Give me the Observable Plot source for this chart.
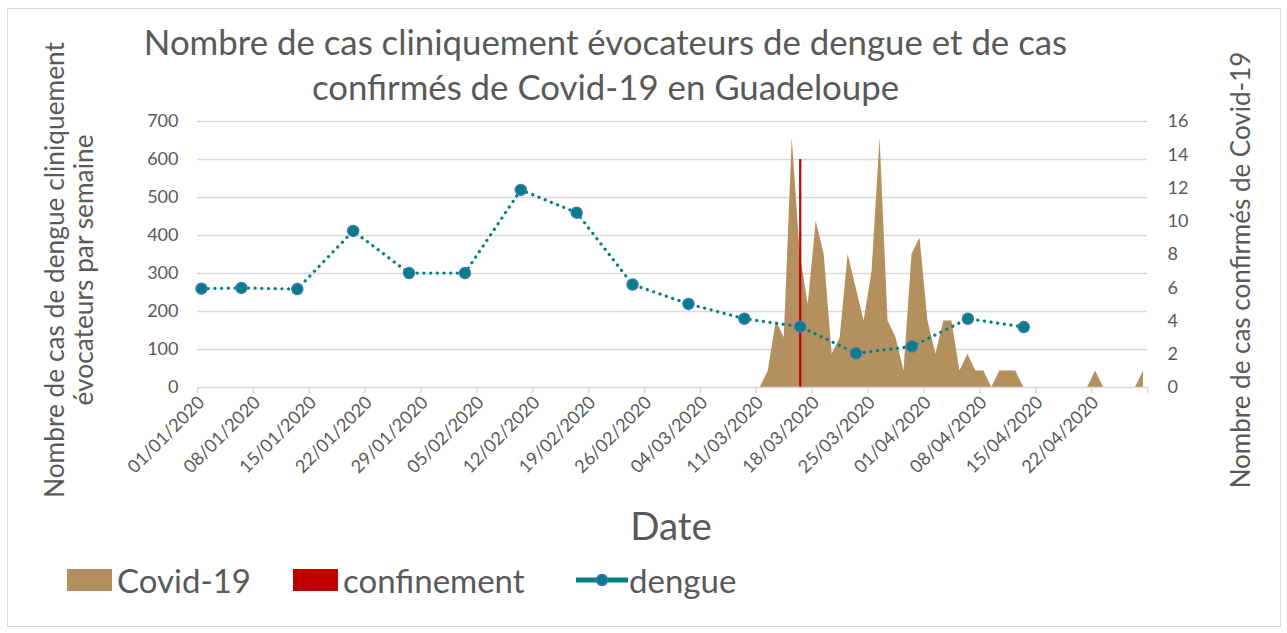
<!DOCTYPE html>
<html><head><meta charset="utf-8">
<script src="https://cdn.jsdelivr.net/npm/d3@7"></script>
<script src="https://cdn.jsdelivr.net/npm/@observablehq/plot@0.6"></script>
<style>
body{margin:0;background:#fff;font-family:Lato,"Open Sans",sans-serif;color:#595959}
#wrap{position:relative;width:1287px;height:633px;overflow:hidden;background:#fff}
#frame{position:absolute;left:7px;top:8px;width:1274px;height:619px;border:1px solid #D9D9D9;box-sizing:border-box}
#title{position:absolute;left:0;top:19px;width:1211px;text-align:center;font-size:34.8px;line-height:45px;white-space:nowrap}
.rot{position:absolute;transform:translate(-50%,-50%) rotate(-90deg);white-space:nowrap;text-align:center}
#ylab{left:69px;top:270px;font-size:26.3px;line-height:29px}
#y2lab{left:1240px;top:270px;font-size:26px;line-height:30px}
#xlab{position:absolute;left:671px;top:525px;transform:translate(-50%,-50%);font-size:38.5px}
#chart{position:absolute;left:0;top:0}
#legend{position:absolute;left:0;top:562px;width:1287px;height:36px;font-size:33px;line-height:36px}
.lg{position:absolute;top:0;white-space:nowrap}
.sw{position:absolute;top:7px;width:45px;height:22px}
</style></head>
<body>
<div id="wrap">
  <div id="frame"></div>
  <div id="chart"></div>
  <div id="title">Nombre de cas cliniquement évocateurs de dengue et de cas<br>confirmés de Covid-19 en Guadeloupe</div>
  <div id="ylab" class="rot">Nombre de cas de dengue cliniquement<br>évocateurs par semaine</div>
  <div id="y2lab" class="rot">Nombre de cas confirmés de Covid-19</div>
  <div id="xlab">Date</div>
  <div id="legend"></div>
</div>
<script>
// ---- data ----
const dengueDates = ["2020-01-01","2020-01-06","2020-01-13","2020-01-20","2020-01-27","2020-02-03","2020-02-10","2020-02-17","2020-02-24","2020-03-02","2020-03-09","2020-03-16","2020-03-23","2020-03-30","2020-04-06","2020-04-13"];
const dengueValues = [260,262,259,412,301,301,520,460,271,220,181,160,90,108,181,159];

const covidDates = ["2020-03-11","2020-03-12","2020-03-13","2020-03-14","2020-03-15","2020-03-16","2020-03-17","2020-03-18","2020-03-19","2020-03-20","2020-03-21","2020-03-22","2020-03-23","2020-03-24","2020-03-25","2020-03-26","2020-03-27","2020-03-28","2020-03-29","2020-03-30","2020-03-31","2020-04-01","2020-04-02","2020-04-03","2020-04-04","2020-04-05","2020-04-06","2020-04-07","2020-04-08","2020-04-09","2020-04-10","2020-04-11","2020-04-12","2020-04-13","2020-04-14","2020-04-15","2020-04-16","2020-04-17","2020-04-18","2020-04-19","2020-04-20","2020-04-21","2020-04-22","2020-04-23","2020-04-24","2020-04-25","2020-04-26","2020-04-27","2020-04-28"];
const covidValues = [0,1,4,3,15,8,5,10,8,2,3,8,6,4,7,15,4,3,1,8,9,4,2,4,4,1,2,1,1,0,1,1,1,0,0,0,0,0,0,0,0,0,1,0,0,0,0,0,1];

const confinementDate = "2020-03-16";
const confinementValue = 600;

const xTickDates = ["2020-01-01","2020-01-08","2020-01-15","2020-01-22","2020-01-29","2020-02-05","2020-02-12","2020-02-19","2020-02-26","2020-03-04","2020-03-11","2020-03-18","2020-03-25","2020-04-01","2020-04-08","2020-04-15","2020-04-22","2020-04-29"];
const xTickLabels = ["01/01/2020","08/01/2020","15/01/2020","22/01/2020","29/01/2020","05/02/2020","12/02/2020","19/02/2020","26/02/2020","04/03/2020","11/03/2020","18/03/2020","25/03/2020","01/04/2020","08/04/2020","15/04/2020","22/04/2020",""];
const leftTicks = [0,100,200,300,400,500,600,700];
const rightTicks = [0,2,4,6,8,10,12,14,16];

const legendItems = [
  {label: "Covid-19", color: "#B3905E", kind: "swatch", x: 67, tx: 117},
  {label: "confinement", color: "#C00000", kind: "swatch", x: 293, tx: 343},
  {label: "dengue", color: "#008080", kind: "line", x: 576, tx: 629}
];

// ---- build ----
const leftMax = 700, rightMax = 16, k = leftMax / rightMax;
const mid = s => new Date(Date.parse(s) + 12 * 3600e3);
const dengue = dengueDates.map((d, i) => ({date: mid(d), value: dengueValues[i]}));
const covid = covidDates.map((d, i) => ({date: mid(d), value: covidValues[i] * k}));
const tickDates = xTickDates.map(d => new Date(d));
const labelOf = new Map(tickDates.map((d, i) => [+d, xTickLabels[i]]));
const rightLabel = new Map(rightTicks.map(v => [v * k, String(v)]));

const chart = Plot.plot({
  width: 1287, height: 500,
  marginLeft: 197, marginRight: 140, marginTop: 121, marginBottom: 113,
  style: {fontFamily: "Lato, sans-serif", fontSize: "18px", color: "#595959", background: "transparent", overflow: "visible"},
  x: {type: "utc", domain: [new Date(xTickDates[0]), new Date(xTickDates[xTickDates.length - 1])]},
  y: {domain: [0, leftMax]},
  marks: [
    Plot.ruleY(leftTicks.filter(v => v > 0), {stroke: "#D9D9D9", strokeWidth: 1.4}),
    Plot.areaY(covid, {x: "date", y: "value", fill: "#B3905E"}),
    Plot.ruleX([mid(confinementDate)], {y1: 0, y2: confinementValue, stroke: "#C00000", strokeWidth: 2.2}),
    Plot.line(dengue, {x: "date", y: "value", stroke: "#008080", strokeWidth: 3.2, strokeDasharray: "0.1 6.6", strokeLinecap: "round"}),
    Plot.dot(dengue, {x: "date", y: "value", r: 5.5, fill: "#008080", stroke: "#4472C4", strokeWidth: 1.5}),
    Plot.ruleY([0], {stroke: "#D9D9D9", strokeWidth: 1.5}),
    // tick marks
    Plot.axisX({ticks: tickDates, tickSize: 6, stroke: "#D9D9D9", strokeWidth: 1.5, tickFormat: () => "", label: null}),
    // rotated tick labels
    Plot.axisX({ticks: tickDates, tickSize: 0, tickRotate: -45, tickPadding: 12, dx: 4, tickFormat: d => labelOf.get(+d) ?? "", label: null, fill: "#595959"}),
    Plot.axisY({ticks: leftTicks, anchor: "left", tickSize: 0, tickPadding: 19, label: null, fill: "#595959"}),
    Plot.axisY({ticks: rightTicks.map(v => v * k), anchor: "right", tickSize: 0, tickPadding: 20, tickFormat: v => rightLabel.get(v) ?? "", label: null, fill: "#595959"})
  ]
});
document.getElementById("chart").appendChild(chart);

// legend
const legend = document.getElementById("legend");
legend.innerHTML = legendItems.map(it => {
  const mark = it.kind === "swatch"
    ? `<div class="sw" style="left:${it.x}px;background:${it.color}"></div>`
    : `<svg class="lg" style="left:${it.x}px;top:6px" width="52" height="24"><line x1="0" y1="12" x2="52" y2="12" stroke="${it.color}" stroke-width="5"/><circle cx="26" cy="12" r="5.5" fill="${it.color}" stroke="#4472C4" stroke-width="1.5"/></svg>`;
  return mark + `<div class="lg" style="left:${it.tx}px">${it.label}</div>`;
}).join("");
</script>
</body></html>
